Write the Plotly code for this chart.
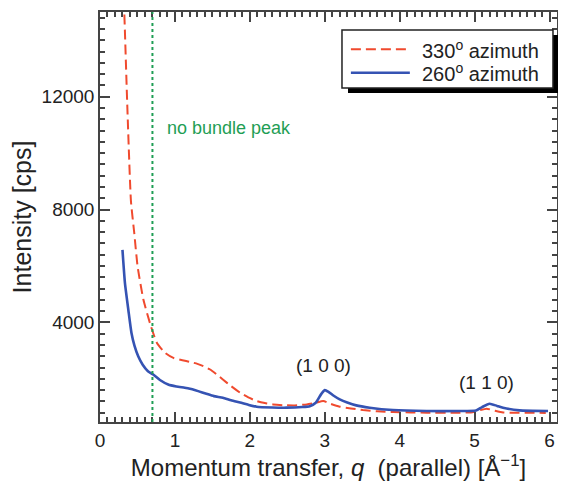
import plotly.graph_objects as go

# 330 deg azimuth (red dashed)
q_330 = [0.30, 0.324, 0.364, 0.413, 0.458, 0.502, 0.58, 0.68, 0.76, 0.87, 0.98, 1.1, 1.2, 1.3, 1.38, 1.47, 1.56, 1.64, 1.75, 1.87, 1.98, 2.09, 2.2, 2.31, 2.45, 2.6, 2.76, 2.88, 2.98, 3.08, 3.2, 3.35, 3.51, 3.7, 3.91, 4.15, 4.36, 4.7, 4.95, 5.05, 5.16, 5.27, 5.38, 5.55, 5.73, 5.95]
i_330 = [16500, 15000, 11700, 8300, 7150, 5980, 4800, 3860, 3270, 2920, 2742, 2660, 2600, 2530, 2447, 2330, 2150, 1977, 1740, 1507, 1340, 1211, 1140, 1094, 1065, 1059, 1094, 1150, 1211, 1110, 1013, 950, 893, 850, 823, 810, 800, 800, 810, 870, 943, 870, 810, 800, 800, 790]

# 260 deg azimuth (blue solid)
q_260 = [0.30, 0.333, 0.378, 0.42, 0.46, 0.51, 0.57, 0.64, 0.71, 0.8, 0.91, 1.02, 1.13, 1.2, 1.31, 1.42, 1.52, 1.64, 1.75, 1.87, 1.98, 2.09, 2.3, 2.49, 2.7, 2.8, 2.88, 2.95, 3.0, 3.05, 3.12, 3.2, 3.3, 3.42, 3.6, 3.91, 4.36, 4.8, 5.02, 5.1, 5.2, 5.3, 5.38, 5.6, 5.98]
i_260 = [6567, 5390, 4449, 3626, 3180, 2800, 2500, 2270, 2153, 1960, 1800, 1730, 1684, 1648, 1564, 1470, 1387, 1330, 1240, 1160, 1080, 1013, 985, 978, 1000, 1030, 1150, 1450, 1600, 1540, 1400, 1271, 1160, 1059, 978, 893, 858, 858, 880, 1000, 1119, 1040, 978, 883, 858]

series_names = ["330<sup>o</sup> azimuth", "260<sup>o</sup> azimuth"]
series_colors = ["#f04a2e", "#3553b3"]
bundle_q = 0.7

X_RANGE = [0, 6.1]
Y_RANGE = [470, 15000]
TICK_COLOR = "#444"

fig = go.Figure()
fig.add_trace(go.Scatter(x=q_330, y=i_330, mode="lines", name=series_names[0], showlegend=False,
                         line=dict(color=series_colors[0], width=2, dash="10px,5px",
                                   shape="spline", smoothing=0.5)))
fig.add_trace(go.Scatter(x=q_260, y=i_260, mode="lines", name=series_names[1], showlegend=False,
                         line=dict(color=series_colors[1], width=2.6, shape="spline", smoothing=0.5)))
# empty trace so the mirrored minor-tick axes (top / right) are drawn
fig.add_trace(go.Scatter(x=[None], y=[None], xaxis="x2", yaxis="y2", mode="lines",
                         showlegend=False, hoverinfo="skip"))

fig.add_vline(x=bundle_q, line=dict(color="#1f9e55", width=2, dash="dot"))

fig.add_annotation(x=0.867, y=10874, text="no bundle peak", showarrow=False, xanchor="left",
                   font=dict(color="#1f9e55", size=18))
fig.add_annotation(x=2.98, y=2490, text="(1 0 0)", showarrow=False,
                   font=dict(color="#222", size=19))
fig.add_annotation(x=5.16, y=1887, text="(1 1 0)", showarrow=False,
                   font=dict(color="#222", size=19))

# legend box (drawn manually, with drop shadow)
fig.add_shape(type="rect", xref="paper", yref="paper", x0=0.5427, x1=1.0022, y0=0.8024, y1=0.9439,
              fillcolor="black", line=dict(width=0), layer="above")
fig.add_shape(type="rect", xref="paper", yref="paper", x0=0.5295, x1=0.9912, y0=0.8146, y1=0.9561,
              fillcolor="white", line=dict(color="#222", width=1.5), layer="above")
fig.add_shape(type="line", xref="paper", yref="paper", x0=0.549, x1=0.678, y0=0.909, y1=0.909,
              line=dict(color=series_colors[0], width=2, dash="10px,5px"), layer="above")
fig.add_shape(type="line", xref="paper", yref="paper", x0=0.549, x1=0.678, y0=0.852, y1=0.852,
              line=dict(color=series_colors[1], width=2.6), layer="above")
fig.add_annotation(xref="paper", yref="paper", x=0.700, y=0.909, text=series_names[0],
                   showarrow=False, xanchor="left", yanchor="middle", font=dict(size=20, color="#222"))
fig.add_annotation(xref="paper", yref="paper", x=0.700, y=0.852, text=series_names[1],
                   showarrow=False, xanchor="left", yanchor="middle", font=dict(size=20, color="#222"))

axis_common = dict(showline=True, linecolor=TICK_COLOR, linewidth=1.5, mirror="ticks",
                   ticks="inside", tickcolor=TICK_COLOR, ticklen=10, tickwidth=1.5,
                   showgrid=False, zeroline=False, automargin=False,
                   tickfont=dict(size=19, color="#222"))

fig.update_layout(
    xaxis=dict(range=X_RANGE, tickmode="linear", dtick=1, tick0=0,
               minor=dict(ticks="inside", dtick=0.1, ticklen=5, tickwidth=1.5, tickcolor=TICK_COLOR),
               title=dict(text="Momentum transfer, <i>q</i>  (parallel) [Å<sup>−1</sup>]",
                          font=dict(size=24, color="#222"), standoff=6),
               **axis_common),
    yaxis=dict(range=Y_RANGE, tickmode="linear", dtick=4000, tick0=0, tickformat="d",
               minor=dict(ticks="inside", dtick=400, ticklen=5, tickwidth=1.5, tickcolor=TICK_COLOR),
               title=dict(text="Intensity [cps]", font=dict(size=25, color="#222"), standoff=4),
               **axis_common),
    xaxis2=dict(overlaying="x", anchor="y", side="top", range=X_RANGE,
                tickmode="linear", tick0=0, dtick=0.1, ticks="inside", ticklen=5, tickwidth=1.5,
                tickcolor=TICK_COLOR, showline=False, showticklabels=False,
                showgrid=False, zeroline=False, automargin=False),
    yaxis2=dict(overlaying="y", anchor="x", side="right", range=Y_RANGE,
                tickmode="linear", tick0=0, dtick=400, ticks="inside", ticklen=5, tickwidth=1.5,
                tickcolor=TICK_COLOR, showline=False, showticklabels=False,
                showgrid=False, zeroline=False, automargin=False),
    width=558, height=473,
    margin=dict(l=92, r=9, t=4, b=59),
    paper_bgcolor="white", plot_bgcolor="white",
    font=dict(family="Liberation Sans, Arial, sans-serif", color="#222"),
    showlegend=False,
)

fig.write_html("out.html")
